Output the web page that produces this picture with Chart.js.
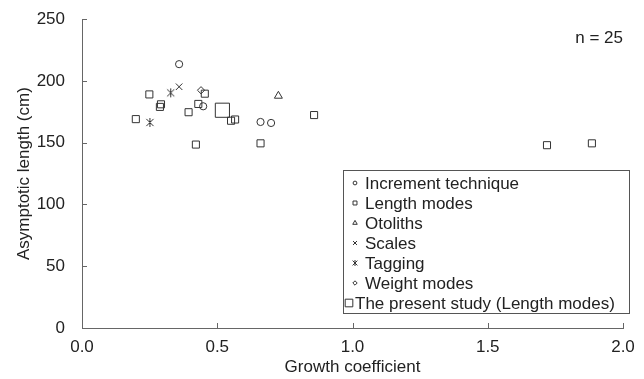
<!DOCTYPE html>
<html>
<head>
<meta charset="utf-8">
<script src="https://cdn.jsdelivr.net/npm/chart.js@4.4.1/dist/chart.umd.min.js"></script>
<style>
  html, body { margin: 0; padding: 0; background: #fff; }
  #wrap { width: 644px; height: 379px; }
</style>
</head>
<body>
<div id="wrap"><canvas id="growthChart"></canvas></div>
<script>
// growth coefficient (K) and asymptotic length (cm) per method
const incrementK = [0.359, 0.448, 0.660, 0.699];
const incrementLinf = [213.6, 179.5, 166.8, 166.0];

const lengthK = [0.249, 0.292, 0.288, 0.394, 0.454, 0.430, 0.199, 0.551, 0.566, 0.858, 0.660, 0.421, 1.719, 1.885];
const lengthLinf = [189.1, 181.1, 179.0, 174.7, 189.7, 181.4, 169.1, 167.8, 168.8, 172.4, 149.5, 148.5, 148.0, 149.5];

const otolithK = [0.726];
const otolithLinf = [187.9];

const scaleK = [0.359];
const scaleLinf = [195.3];

const taggingK = [0.328, 0.251];
const taggingLinf = [190.4, 166.4];

const weightK = [0.440];
const weightLinf = [192.5];

const presentK = [0.519];
const presentLinf = [176.3];

const xTicks = [0, 0.5, 1.0, 1.5, 2.0];
const yTicks = [0, 50, 100, 150, 200, 250];
const sampleNote = "n = 25";

const FONT = "'Liberation Sans', Arial, sans-serif";
const INK = '#333';

function pts(xs, ys) {
    return xs.map((x, i) => ({x: x, y: ys[i]}));
}

// the "tagging" marker is an x with a vertical bar, chart.js has no such style
function asterisk(size) {
    const c = document.createElement('canvas');
    c.width = size;
    c.height = size;
    const g = c.getContext('2d');
    const m = size / 2, a = size / 2 - 1;
    g.strokeStyle = INK;
    g.lineWidth = 1;
    g.beginPath();
    g.moveTo(m - a * 0.8, m - a * 0.8); g.lineTo(m + a * 0.8, m + a * 0.8);
    g.moveTo(m + a * 0.8, m - a * 0.8); g.lineTo(m - a * 0.8, m + a * 0.8);
    g.moveTo(m, m - a); g.lineTo(m, m + a);
    g.stroke();
    return c;
}

const series = [
    {label: 'Increment technique', xs: incrementK, ys: incrementLinf, style: 'circle', r: 3.6, lr: 1.9},
    {label: 'Length modes', xs: lengthK, ys: lengthLinf, style: 'rect', r: 5, lr: 2.8},
    {label: 'Otoliths', xs: otolithK, ys: otolithLinf, style: 'triangle', r: 4.6, lr: 2.6},
    {label: 'Scales', xs: scaleK, ys: scaleLinf, style: 'crossRot', r: 4.6, lr: 2.8},
    {label: 'Tagging', xs: taggingK, ys: taggingLinf, style: asterisk(11), r: 5, lr: 3, legendStyle: asterisk(8)},
    {label: 'Weight modes', xs: weightK, ys: weightLinf, style: 'rectRot', r: 3.6, lr: 2.2},
    {label: 'The present study (Length modes)', xs: presentK, ys: presentLinf, style: 'rect', r: 10, lr: 5.4},
];

// inward tick marks like the original figure
const innerTicks = {
    id: 'innerTicks',
    afterDraw(chart) {
        const {ctx, scales: {x, y}} = chart;
        ctx.save();
        ctx.strokeStyle = '#666';
        ctx.lineWidth = 1;
        ctx.beginPath();
        xTicks.forEach(v => {
            if (v === 0) return;
            const px = Math.round(x.getPixelForValue(v)) + 0.5;
            ctx.moveTo(px, y.bottom);
            ctx.lineTo(px, y.bottom - 5);
        });
        yTicks.forEach(v => {
            if (v === 0) return;
            const py = Math.round(y.getPixelForValue(v)) + 0.5;
            ctx.moveTo(x.left, py);
            ctx.lineTo(x.left + 5, py);
        });
        ctx.stroke();
        ctx.restore();
    }
};

// boxed legend in the lower right, plus the n label
const boxLegend = {
    id: 'boxLegend',
    afterDraw(chart) {
        const ctx = chart.ctx;
        const box = {left: 343.5, top: 170.5, right: 629.5, bottom: 313.5};
        ctx.save();
        ctx.fillStyle = '#fff';
        ctx.fillRect(box.left, box.top, box.right - box.left, box.bottom - box.top);
        ctx.strokeStyle = '#555';
        ctx.lineWidth = 1;
        ctx.strokeRect(box.left, box.top, box.right - box.left, box.bottom - box.top);

        ctx.font = '17px ' + FONT;
        ctx.textBaseline = 'middle';
        ctx.textAlign = 'left';
        chart.data.datasets.forEach((ds, i) => {
            const s = series[i];
            const rowY = 183 + i * 20;
            const big = i === series.length - 1;
            const mx = big ? 349 : 355;
            ctx.strokeStyle = INK;
            ctx.fillStyle = 'rgba(0,0,0,0)';
            Chart.helpers.drawPoint(ctx, {pointStyle: s.legendStyle || s.style, radius: s.lr, rotation: 0, borderWidth: 1}, mx, rowY);
            ctx.fillStyle = '#222';
            ctx.fillText(ds.label, big ? 355 : 365, rowY + 1);
        });

        ctx.textAlign = 'right';
        ctx.fillStyle = '#222';
        ctx.fillText(sampleNote, 623, 38);
        ctx.restore();
    }
};

new Chart(document.getElementById('growthChart').getContext('2d'), {
    type: 'scatter',
    data: {
        datasets: series.map(s => ({
            label: s.label,
            data: pts(s.xs, s.ys),
            pointStyle: s.style,
            pointRadius: s.r,
            pointHoverRadius: s.r,
            pointBorderWidth: 1,
            borderColor: INK,
            backgroundColor: 'rgba(0,0,0,0)',
        }))
    },
    options: {
        responsive: true,
        maintainAspectRatio: false,
        animation: false,
        layout: {autoPadding: false, padding: {left: 0, right: 21, top: 17, bottom: 0}},
        plugins: {
            legend: {display: false},
            tooltip: {enabled: false},
        },
        scales: {
            x: {
                type: 'linear',
                min: 0,
                max: 2,
                afterBuildTicks: (scale) => { scale.ticks = xTicks.map(v => ({value: v})); },
                afterFit: (scale) => { scale.height = 51; },
                grid: {display: false},
                border: {color: '#666', width: 1},
                ticks: {
                    padding: 1,
                    color: '#222',
                    font: {family: FONT, size: 17},
                    maxRotation: 0,
                    callback: v => v.toFixed(1),
                },
                title: {
                    display: true,
                    text: 'Growth coefficient',
                    color: '#222',
                    font: {family: FONT, size: 17},
                    padding: {top: 0, bottom: 1},
                },
            },
            y: {
                type: 'linear',
                min: 0,
                max: 250,
                afterBuildTicks: (scale) => { scale.ticks = yTicks.map(v => ({value: v})); },
                afterFit: (scale) => { scale.width = 82; },
                grid: {display: false},
                border: {color: '#666', width: 1},
                ticks: {
                    padding: 9,
                    color: '#222',
                    font: {family: FONT, size: 17},
                },
                title: {
                    display: true,
                    text: 'Asymptotic length (cm)',
                    color: '#222',
                    font: {family: FONT, size: 17},
                    padding: {top: 14, bottom: 0},
                },
            },
        },
    },
    plugins: [innerTicks, boxLegend],
});
</script>
</body>
</html>
